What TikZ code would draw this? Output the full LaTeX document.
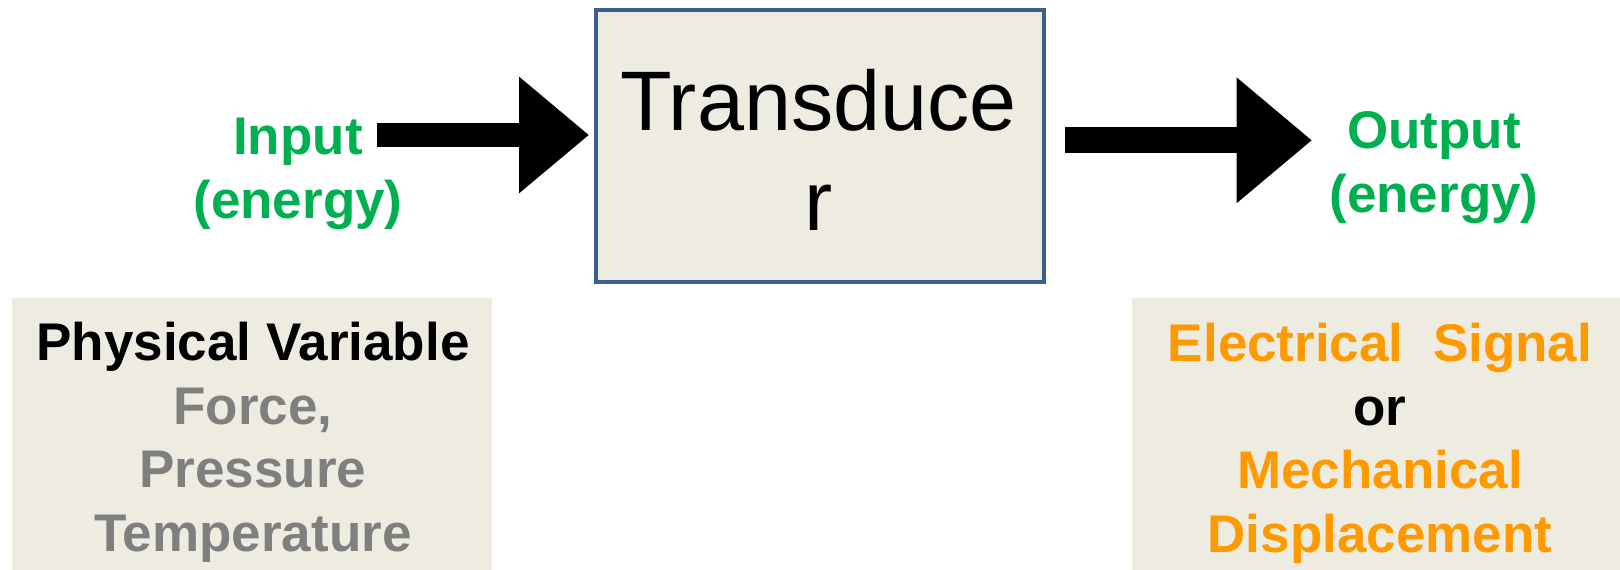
\documentclass[tikz,border=0pt]{standalone}
\usepackage{fontspec}
\setmainfont{Liberation Sans}
\usetikzlibrary{arrows.meta,calc}
\definecolor{labelgreen}{HTML}{00B050}
\definecolor{signalorange}{HTML}{FF9900}
\definecolor{vargray}{HTML}{7F7F7F}
\definecolor{panelfill}{HTML}{EEECE1}
\definecolor{frameblue}{HTML}{3B5F8D}
\begin{document}
\begin{tikzpicture}[x=1pt,y=-1pt,
  panel/.style={fill=panelfill, inner sep=0pt, anchor=north west},
  caption/.style={font=\bfseries\fontsize{53}{63.8}\selectfont, align=center,
    anchor=base, inner sep=0pt},
  blockarrow/.style n args={3}{line width=#1pt,
    -{Triangle[length=#2pt, width=#3pt]}}]
  \useasboundingbox (0,0) rectangle (1620,570);

  % lower panels
  \node[panel, minimum width=480pt, minimum height=272pt] (leftpanel) at (12,298) {};
  \node[panel, minimum width=488pt, minimum height=272pt] (rightpanel) at (1132,298) {};

  % central block; the name is set on two lines, anchored at the last baseline
  \node[draw=frameblue, line width=4.5pt, fill=panelfill, minimum width=448pt,
    minimum height=272pt, inner sep=0pt] (transducer) at (819.8,145.75) {};
  \node[align=center, anchor=base, inner sep=0pt,
    font=\fontsize{84.5}{100.7}\selectfont] (transducerName) at (818.5,230.7)
    {Transduce\\r};

  % side captions (anchored at the baseline of their last line)
  \node[caption, text=labelgreen] (input) at (298,218) {Input\\(energy)};
  \node[caption, text=labelgreen] (output) at (1434,212) {Output\\(energy)};

  \node[caption] (physvar) at (253,551.7)
    {Physical Variable\\\textcolor{vargray}{Force,}\\\textcolor{vargray}{Pressure}\\\textcolor{vargray}{Temperature}};
  \node[caption] (signal) at (1380,552.7)
    {\textcolor{signalorange}{Electrical\ \ Signal}\\or\\\textcolor{signalorange}{Mechanical}\\\textcolor{signalorange}{Displacement}};

  % block arrows
  \coordinate (inStart) at (377,135);
  \coordinate (outTip) at (1312,140.3);
  \draw[blockarrow={23.4}{70}{112}] (inStart) -- ($(inStart -| transducer.west)+(-4.5,0)$);
  \draw[blockarrow={26}{75.5}{121}] ($(outTip -| transducer.east)+(19,0)$) -- (outTip);
\end{tikzpicture}
\end{document}
